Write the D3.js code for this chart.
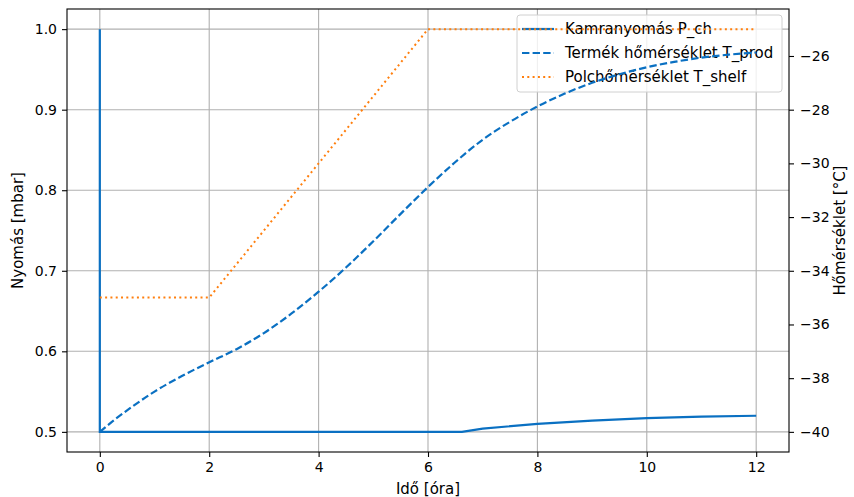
<!DOCTYPE html>
<html>
<head>
<meta charset="utf-8">
<script src="https://cdn.jsdelivr.net/npm/d3@7"></script>
<style>
  body { margin: 0; background: #fff; }
  text { font-family: "DejaVu Sans", sans-serif; }
</style>
</head>
<body>
<div id="chart"></div>
<script>
// chamber pressure (left axis)
var pTime = [0, 0, 6.62, 7, 8, 9, 10, 11, 12];
var pValue = [1.0, 0.5, 0.5, 0.504, 0.510, 0.514, 0.517, 0.519, 0.520];
// product temperature (right axis)
var prodTime = [0, 0.3, 0.6, 1, 1.5, 2, 2.5, 3, 3.5, 4, 4.5, 5, 5.5, 6, 6.5, 7, 7.5, 8, 8.5, 9, 9.5, 10, 10.5, 11, 11.5, 12];
var prodValue = [-40, -39.5, -39.05, -38.5, -37.92, -37.41, -36.92, -36.32, -35.6, -34.78, -33.88, -32.9, -31.88, -30.88, -29.95, -29.12, -28.45, -27.88, -27.4, -27.0, -26.68, -26.42, -26.22, -26.06, -25.95, -25.87];
// shelf temperature (right axis)
var shelfTime = [0, 2, 6, 12];
var shelfValue = [-35, -35, -25, -25];

var xTicks = [0, 2, 4, 6, 8, 10, 12];
var pTicks = [0.5, 0.6, 0.7, 0.8, 0.9, 1.0];
var tTicks = [-40, -38, -36, -34, -32, -30, -28, -26];
var legendLabels = ["Kamranyomás P_ch", "Termék hőmérséklet T_prod", "Polchőmérséklet T_shelf"];

var width = 854, height = 497;
var margin = { top: 9, right: 65, bottom: 45, left: 67 };
var blue = "#0a70c2", orange = "#ff7f0e";

var svg = d3.select("#chart").append("svg")
  .attr("width", width).attr("height", height);

var x = d3.scaleLinear().domain([-0.6, 12.6]).range([margin.left, width - margin.right]);
var yP = d3.scaleLinear().domain([0.475, 1.025]).range([height - margin.bottom, margin.top]);
var yT = d3.scaleLinear().domain([-40.75, -24.25]).range([height - margin.bottom, margin.top]);

// grid
svg.append("g").selectAll("line").data(xTicks).enter().append("line")
  .attr("x1", d => x(d)).attr("x2", d => x(d))
  .attr("y1", margin.top).attr("y2", height - margin.bottom)
  .attr("stroke", "#b0b0b0").attr("stroke-width", 1.1);
svg.append("g").selectAll("line").data(pTicks).enter().append("line")
  .attr("x1", margin.left).attr("x2", width - margin.right)
  .attr("y1", d => yP(d)).attr("y2", d => yP(d))
  .attr("stroke", "#b0b0b0").attr("stroke-width", 1.1);

// axes
var fmtMinus = d => d3.format("d")(d).replace("-", "\u2212");
svg.append("g")
  .attr("transform", `translate(0,${height - margin.bottom})`)
  .call(d3.axisBottom(x).tickValues(xTicks).tickSize(5).tickPadding(5).tickFormat(d3.format("d")))
  .call(g => g.select(".domain").remove());
svg.append("g")
  .attr("transform", `translate(${margin.left},0)`)
  .call(d3.axisLeft(yP).tickValues(pTicks).tickSize(5).tickPadding(5).tickFormat(d3.format(".1f")))
  .call(g => g.select(".domain").remove());
svg.append("g")
  .attr("transform", `translate(${width - margin.right},0)`)
  .call(d3.axisRight(yT).tickValues(tTicks).tickSize(5).tickPadding(6).tickFormat(fmtMinus))
  .call(g => g.select(".domain").remove());
svg.selectAll(".tick text").attr("font-size", "14px").attr("fill", "#000")
  .style("font-family", "DejaVu Sans");
svg.selectAll(".tick line").attr("stroke", "#000").attr("stroke-width", 1.1);

// pressure line (left axis)
var lineP = d3.line().x((d, i) => x(pTime[i])).y(d => yP(d));
svg.append("path").datum(pValue).attr("d", lineP)
  .attr("fill", "none").attr("stroke", blue).attr("stroke-width", 2.2);

// legend (below the twin-axis lines)
var legend = svg.append("g").attr("transform", "translate(517,15)");
legend.append("rect").attr("width", 265).attr("height", 77).attr("rx", 3)
  .attr("fill", "#fff").attr("fill-opacity", 0.8).attr("stroke", "#d0d0d0");
var styles = [
  { color: blue, dash: null },
  { color: blue, dash: "7.4,3.2" },
  { color: orange, dash: "2,3.3" }
];
legendLabels.forEach((label, i) => {
  var row = legend.append("g").attr("transform", `translate(0,${14 + i * 24})`);
  row.append("line").attr("x1", 5).attr("x2", 37).attr("y1", 0).attr("y2", 0)
    .attr("stroke", styles[i].color).attr("stroke-width", 2.2)
    .attr("stroke-dasharray", styles[i].dash);
  row.append("text").attr("x", 48).attr("y", 0).attr("dy", "0.35em")
    .attr("font-size", "15px").text(label);
});

// temperature lines (right axis)
var lineProd = d3.line().curve(d3.curveMonotoneX).x((d, i) => x(prodTime[i])).y(d => yT(d));
svg.append("path").datum(prodValue).attr("d", lineProd)
  .attr("fill", "none").attr("stroke", blue).attr("stroke-width", 2.2)
  .attr("stroke-dasharray", "7.4,3.2");
var lineShelf = d3.line().x((d, i) => x(shelfTime[i])).y(d => yT(d));
svg.append("path").datum(shelfValue).attr("d", lineShelf)
  .attr("fill", "none").attr("stroke", orange).attr("stroke-width", 2)
  .attr("stroke-dasharray", "2,3.3");

// frame
svg.append("rect")
  .attr("x", margin.left).attr("y", margin.top)
  .attr("width", width - margin.left - margin.right)
  .attr("height", height - margin.top - margin.bottom)
  .attr("fill", "none").attr("stroke", "#000").attr("stroke-width", 1.1);

// axis labels
svg.append("text").attr("text-anchor", "middle")
  .attr("x", (margin.left + width - margin.right) / 2).attr("y", 494)
  .attr("font-size", "15px").text("Idő [óra]");
svg.append("text").attr("text-anchor", "middle")
  .attr("transform", `translate(23,${(margin.top + height - margin.bottom) / 2}) rotate(-90)`)
  .attr("font-size", "15px").text("Nyomás [mbar]");
svg.append("text").attr("text-anchor", "middle")
  .attr("transform", `translate(845,${(margin.top + height - margin.bottom) / 2}) rotate(-90)`)
  .attr("font-size", "15px").text("Hőmérséklet [°C]");
</script>
</body>
</html>
